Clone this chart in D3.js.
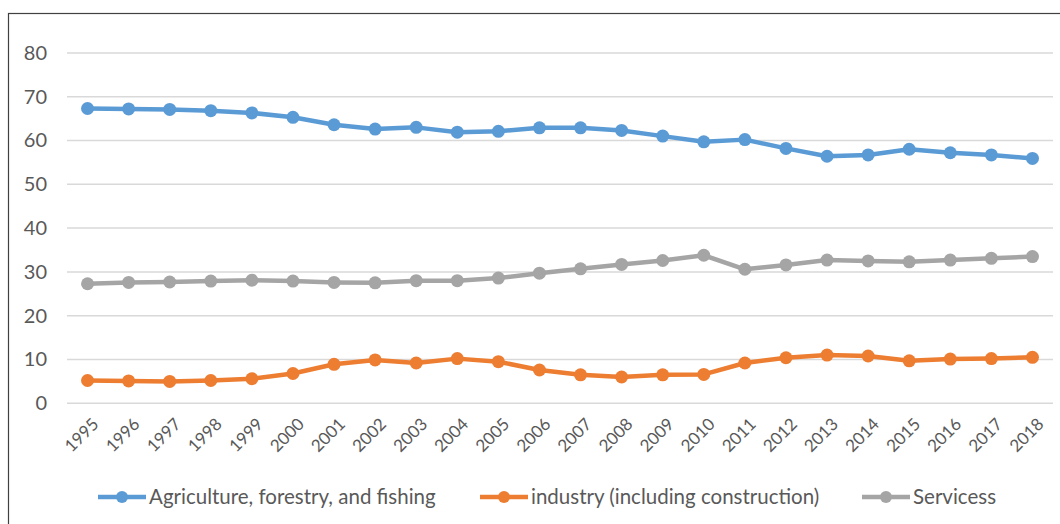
<!DOCTYPE html>
<html>
<head>
<meta charset="utf-8">
<script src="https://cdn.jsdelivr.net/npm/d3@7"></script>
<style>
  html, body { margin: 0; padding: 0; background: #fff; }
  svg { display: block; }
  text { font-family: Lato, "Open Sans", sans-serif; fill: #595959; }
</style>
</head>
<body>
<svg id="chart" width="1060" height="524"></svg>
<script>
// Employment share by sector (%), 1995–2018
const years = ["1995","1996","1997","1998","1999","2000","2001","2002","2003","2004","2005","2006",
               "2007","2008","2009","2010","2011","2012","2013","2014","2015","2016","2017","2018"];
const agriculture = [67.3,67.2,67.1,66.8,66.3,65.3,63.6,62.6,63.0,61.9,62.1,62.9,
                     62.9,62.3,61.0,59.7,60.2,58.2,56.4,56.7,58.0,57.2,56.7,55.9];
const industry    = [5.2,5.1,5.0,5.2,5.6,6.8,8.9,9.9,9.2,10.2,9.5,7.6,
                     6.5,6.0,6.5,6.6,9.2,10.4,11.0,10.8,9.7,10.1,10.2,10.5];
const services    = [27.3,27.6,27.7,27.9,28.1,27.9,27.6,27.5,28.0,28.0,28.6,29.7,
                     30.7,31.7,32.6,33.8,30.6,31.6,32.7,32.5,32.3,32.7,33.1,33.5];
const seriesNames = ["Agriculture, forestry, and fishing","industry (including construction)","Servicess"];
const seriesColors = ["#5B9BD5","#ED7D31","#A5A5A5"];
const yTicks = [0,10,20,30,40,50,60,70,80];

const svg = d3.select("#chart");

// outer frame
svg.append("rect")
  .attr("x", 8.5).attr("y", 13.5)
  .attr("width", 1200).attr("height", 700)
  .attr("fill", "none").attr("stroke", "#404040").attr("stroke-width", 1.2);

const x = d3.scaleBand().domain(years).range([67, 1053]).padding(0);
const xc = d => x(d) + x.bandwidth() / 2;
const y = d3.scaleLinear().domain([0, 80]).range([403.3, 52.9]);

// horizontal gridlines
svg.append("g").selectAll("line").data(yTicks).join("line")
  .attr("x1", 67).attr("x2", 1053)
  .attr("y1", d => y(d)).attr("y2", d => y(d))
  .attr("stroke", "#D9D9D9").attr("stroke-width", 1.5);

// y axis labels
const yAxis = d3.axisLeft(y).tickValues(yTicks).tickSize(0).tickPadding(0);
const yg = svg.append("g").attr("transform", "translate(47,0)").call(yAxis);
yg.select(".domain").remove();
yg.selectAll("text")
  .attr("fill", "#595959").style("font-size", "20px")
  .style("font-family", "Lato, 'Open Sans', sans-serif");

// x axis labels (rotated)
const xAxis = d3.axisBottom(x).tickSize(0).tickPadding(0);
const xg = svg.append("g").attr("transform", "translate(0,412)").call(xAxis);
xg.select(".domain").remove();
xg.selectAll("text")
  .attr("fill", "#595959").style("font-size", "17px")
  .style("font-family", "Lato, 'Open Sans', sans-serif")
  .attr("text-anchor", "end")
  .attr("dy", "0.35em")
  .attr("transform", "translate(8,9) rotate(-45)");

// series lines and markers
const allSeries = [agriculture, industry, services];
const line = d3.line().x((d, i) => xc(years[i])).y(d => y(d));
allSeries.forEach((vals, si) => {
  const g = svg.append("g");
  g.append("path").datum(vals)
    .attr("d", line).attr("fill", "none")
    .attr("stroke", seriesColors[si]).attr("stroke-width", 4.5)
    .attr("stroke-linejoin", "round");
  g.selectAll("circle").data(vals).join("circle")
    .attr("cx", (d, i) => xc(years[i])).attr("cy", d => y(d))
    .attr("r", 6.5).attr("fill", seriesColors[si]);
});

// legend
const legendX = [98, 480, 862];
const legend = svg.append("g");
seriesNames.forEach((name, i) => {
  const lg = legend.append("g").attr("transform", `translate(${legendX[i]},497)`);
  lg.append("line").attr("x1", 0).attr("x2", 48).attr("y1", 0).attr("y2", 0)
    .attr("stroke", seriesColors[i]).attr("stroke-width", 4.5);
  lg.append("circle").attr("cx", 24).attr("cy", 0).attr("r", 6).attr("fill", seriesColors[i]);
  lg.append("text").attr("x", 51).attr("y", 0).attr("dy", "0.35em")
    .style("font-size", "20.5px").text(name);
});
</script>
</body>
</html>
